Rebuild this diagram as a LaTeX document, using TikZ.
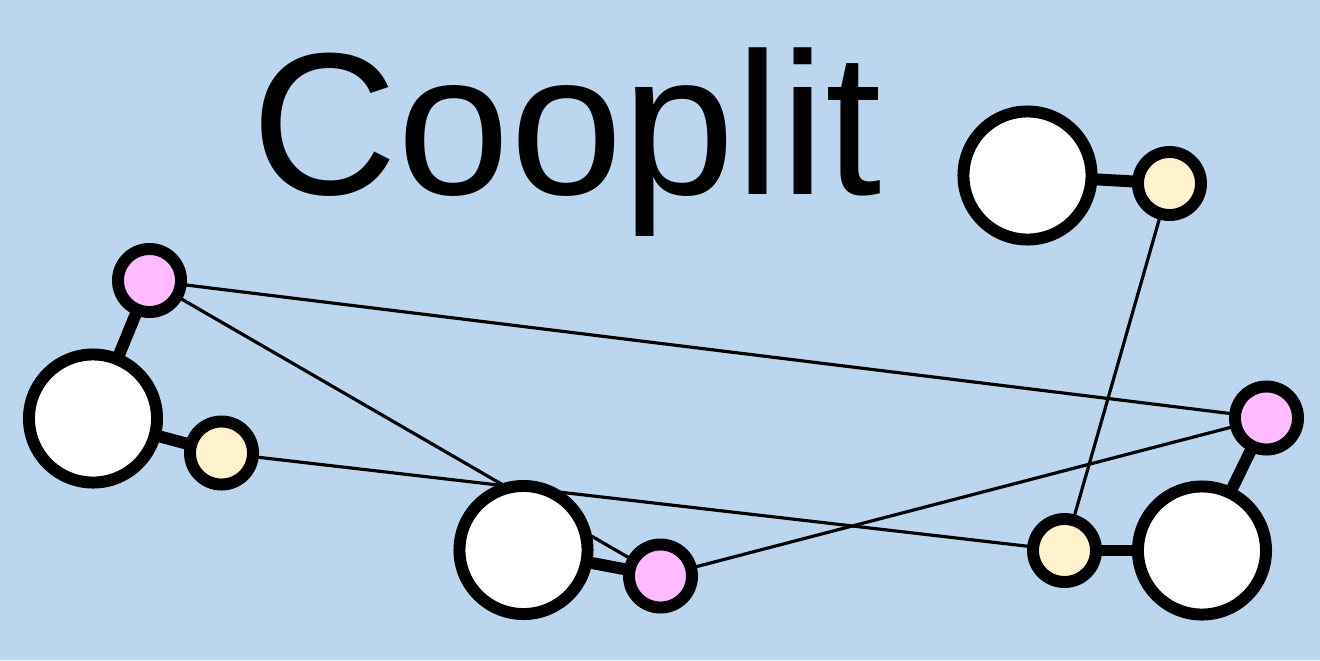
\documentclass[tikz,border=0pt]{standalone}
\usepackage{fontspec}
\setmainfont{Liberation Sans}
\definecolor{bgblue}{RGB}{187,214,238}
\definecolor{pinkf}{RGB}{255,187,255}
\definecolor{yellowf}{RGB}{255,242,204}
\pgfdeclarelayer{bg}
\pgfdeclarelayer{edges}
\pgfsetlayers{bg,edges,main}
\tikzset{
  px/.style={x=0.01cm,y=-0.01cm},
  bigatom/.style={circle,draw=black,fill=white,line width=3.4pt,inner sep=0pt,minimum size=1.28cm},
  pinkatom/.style={circle,draw=black,fill=pinkf,line width=3.4pt,inner sep=0pt,minimum size=0.63cm},
  yellowatom/.style={circle,draw=black,fill=yellowf,line width=3.4pt,inner sep=0pt,minimum size=0.63cm},
  bond/.style={line width=3.4pt,draw=black},
  link/.style={line width=0.9pt,draw=black},
}
\begin{document}
\begin{tikzpicture}[px]
\begin{pgfonlayer}{bg}
\fill[bgblue] (0,0) rectangle (1320,660);
\end{pgfonlayer}
\useasboundingbox (0,0) rectangle (1320,660);
\node[anchor=base west,inner sep=0pt,font=\fontsize{57.6pt}{70pt}\selectfont] (title) at (250.8,194.5) {Cooplit};
\node[bigatom] (A) at (93,418.5) {};
\node[bigatom] (B) at (523.5,550) {};
\node[bigatom] (C) at (1027.5,175.5) {};
\node[bigatom] (D) at (1202,550.5) {};
\node[pinkatom] (p1) at (149.5,280.5) {};
\node[yellowatom] (y1) at (221.5,453) {};
\node[pinkatom] (p2) at (660.5,576) {};
\node[yellowatom] (y2) at (1169.5,183.5) {};
\node[pinkatom] (p3) at (1266.5,418) {};
\node[yellowatom] (y3) at (1064.5,550.5) {};
\begin{pgfonlayer}{edges}
\draw[link] (p1.center) -- (p3.center);
\draw[link] (p1.center) -- (p2.center);
\draw[link] (y1.center) -- (y3.center);
\draw[link] (p2.center) -- (p3.center);
\draw[link] (y2.center) -- (y3.center);
\draw[bond] (A.center) -- (p1.center);
\draw[bond] (A.center) -- (y1.center);
\draw[bond] (B.center) -- (p2.center);
\draw[bond] (C.center) -- (y2.center);
\draw[bond] (D.center) -- (p3.center);
\draw[bond] (D.center) -- (y3.center);
\end{pgfonlayer}
\end{tikzpicture}
\end{document}
